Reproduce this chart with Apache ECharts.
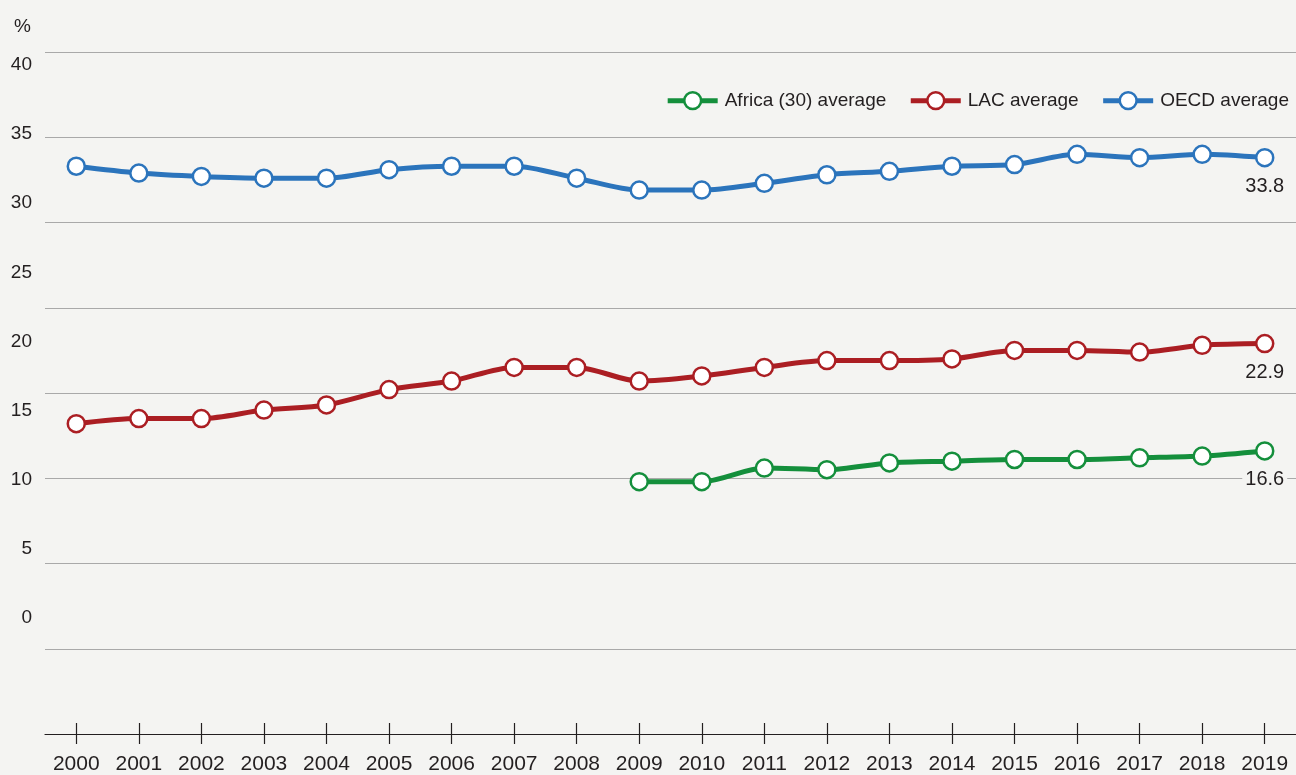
<!DOCTYPE html>
<html><head><meta charset="utf-8">
<script src="https://cdn.jsdelivr.net/npm/echarts@6/dist/echarts.min.js"></script>
<style>html,body{margin:0;padding:0;background:#f4f4f2;}#c{width:1296px;height:775px;}</style>
</head><body><div id="c"></div>
<script>
const years = ['2000','2001','2002','2003','2004','2005','2006','2007','2008','2009','2010','2011','2012','2013','2014','2015','2016','2017','2018','2019'];
const oecd = [33.3,32.9,32.7,32.6,32.6,33.1,33.3,33.3,32.6,31.9,31.9,32.3,32.8,33.0,33.3,33.4,34.0,33.8,34.0,33.8];
const lac = [18.2,18.5,18.5,19.0,19.3,20.2,20.7,21.5,21.5,20.7,21.0,21.5,21.9,21.9,22.0,22.5,22.5,22.4,22.8,22.9];
const africa = [null,null,null,null,null,null,null,null,null,14.8,14.8,15.6,15.5,15.9,16.0,16.1,16.1,16.2,16.3,16.6];
const yTicks = [0,5,10,15,20,25,30,35,40];
const seriesNames = ['Africa (30) average','LAC average','OECD average'];
const colors = ['#148f3c','#ab1e23','#2b74bc'];
const FONT = 'Liberation Sans';

function withEndLabel(arr){
  return arr.map((v,i)=> i===arr.length-1 ? {value:v,label:{show:true}} : v);
}
function mk(name, data, color){
  return {
    name, type:'line', data: withEndLabel(data), xAxisIndex:0, yAxisIndex:0,
    smooth:0.3, symbol:'circle', symbolSize:17, showAllSymbol:true, connectNulls:false,
    lineStyle:{color, width:5},
    itemStyle:{color:'#ffffff', borderColor:color, borderWidth:2.5},
    label:{show:false, position:'bottom', distance:9, fontSize:20, fontFamily:FONT, color:'#231f20',
      backgroundColor:'#f4f4f2', padding:[0,3], formatter:p=>p.value.toFixed(1)},
    emphasis:{disabled:true}, z:3
  };
}
const chart = echarts.init(document.getElementById('c'));
chart.setOption({
  backgroundColor:'#f4f4f2',
  animation:false,
  textStyle:{fontFamily:FONT},
  color: colors,
  legend:{
    data: seriesNames, right:2, top:86, itemWidth:50, itemHeight:21, itemGap:22,
    lineStyle:{width:5},
    itemStyle:{borderWidth:2.5},
    textStyle:{fontSize:19, fontFamily:FONT, color:'#231f20', padding:[0,0,0,2]}
  },
  graphic:[{type:'text', left:14, top:17, style:{text:'%', fontSize:19, fontFamily:FONT, fill:'#231f20'}}],
  grid:[
    {left:45, right:0, top:52, bottom:40},
    {left:45, right:0, top:65, bottom:157}
  ],
  xAxis:[
    {type:'category', gridIndex:0, data:years, boundaryGap:true,
     axisLine:{show:true, lineStyle:{color:'#231f20', width:1.2}},
     axisTick:{show:true, alignWithLabel:true, length:10, lineStyle:{color:'#231f20', width:1.2}},
     axisLabel:{fontSize:21, fontFamily:FONT, color:'#231f20', margin:20}},
    {type:'category', gridIndex:0, data:years, boundaryGap:true, position:'bottom',
     axisLine:{show:false},
     axisTick:{show:true, alignWithLabel:true, inside:true, length:11, lineStyle:{color:'#231f20', width:1.2}},
     axisLabel:{show:false}},
    {type:'value', gridIndex:1, show:false}
  ],
  yAxis:[
    {type:'value', gridIndex:0, min:0, max:40, interval:5,
     axisLine:{show:false}, axisTick:{show:false}, axisLabel:{show:false},
     splitLine:{show:true, lineStyle:{color:'#a9a9a9', width:1.2}}},
    {type:'value', gridIndex:1, min:0, max:40, interval:5,
     axisLine:{show:false}, axisTick:{show:false}, splitLine:{show:false},
     axisLabel:{fontSize:19, fontFamily:FONT, color:'#231f20', margin:13,
       formatter:v=> yTicks.includes(v) ? String(v) : ''}}
  ],
  series:[
    mk(seriesNames[0], africa, colors[0]),
    mk(seriesNames[1], lac, colors[1]),
    mk(seriesNames[2], oecd, colors[2])
  ]
});
</script></body></html>
